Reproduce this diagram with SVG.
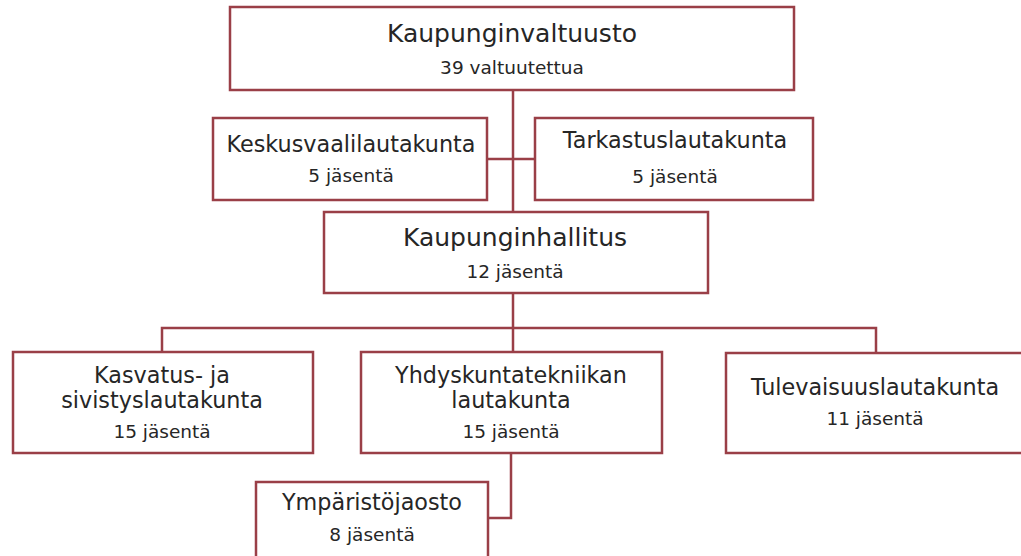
<svg xmlns="http://www.w3.org/2000/svg" width="1021" height="556" viewBox="0 0 1021 556">
<style>
.box{fill:#ffffff;stroke:#9a3f47;stroke-width:2.5}
.con{fill:none;stroke:#9a3f47;stroke-width:2.5}
text{font-family:"DejaVu Sans",Verdana,sans-serif;fill:#262626;text-anchor:middle}
.big{font-size:25px}
.mid{font-size:22.3px}
.sub{font-size:18.5px}
</style>
<rect width="1021" height="556" fill="#ffffff"/>
<g id="connectors">
<path class="con" d="M513,91 V212"/>
<path class="con" d="M487,159 H535"/>
<path class="con" d="M513,293 V352"/>
<path class="con" d="M162,352 V328 H876 V353"/>
<path class="con" d="M511,453 V518 H488"/>
</g>
<g id="kaupunginvaltuusto">
<rect class="box" x="230" y="7" width="564" height="83"/>
<text class="big" x="512" y="42">Kaupunginvaltuusto</text>
<text class="sub" x="512" y="74">39 valtuutettua</text>
</g>
<g id="keskusvaalilautakunta">
<rect class="box" x="213" y="118" width="274" height="82"/>
<text class="mid" x="351" y="152">Keskusvaalilautakunta</text>
<text class="sub" x="351" y="182">5 jäsentä</text>
</g>
<g id="tarkastuslautakunta">
<rect class="box" x="535" y="118" width="278" height="82"/>
<text class="mid" x="675" y="148">Tarkastuslautakunta</text>
<text class="sub" x="675" y="183">5 jäsentä</text>
</g>
<g id="kaupunginhallitus">
<rect class="box" x="324" y="212" width="384" height="81"/>
<text class="big" x="515" y="246">Kaupunginhallitus</text>
<text class="sub" x="515" y="278">12 jäsentä</text>
</g>
<g id="kasvatus">
<rect class="box" x="13" y="352" width="300" height="101"/>
<text class="mid" x="162" y="383">Kasvatus- ja</text>
<text class="mid" x="162" y="408">sivistyslautakunta</text>
<text class="sub" x="162" y="438">15 jäsentä</text>
</g>
<g id="yhdyskuntatekniikan">
<rect class="box" x="361" y="352" width="301" height="101"/>
<text class="mid" x="511" y="383">Yhdyskuntatekniikan</text>
<text class="mid" x="511" y="408">lautakunta</text>
<text class="sub" x="511" y="438">15 jäsentä</text>
</g>
<g id="tulevaisuuslautakunta">
<rect class="box" x="726" y="353" width="300" height="100"/>
<text class="mid" x="875" y="395">Tulevaisuuslautakunta</text>
<text class="sub" x="875" y="425">11 jäsentä</text>
</g>
<g id="ymparistojaosto">
<rect class="box" x="256" y="482" width="232" height="80"/>
<text class="mid" x="372" y="510">Ympäristöjaosto</text>
<text class="sub" x="372" y="541">8 jäsentä</text>
</g>
</svg>
